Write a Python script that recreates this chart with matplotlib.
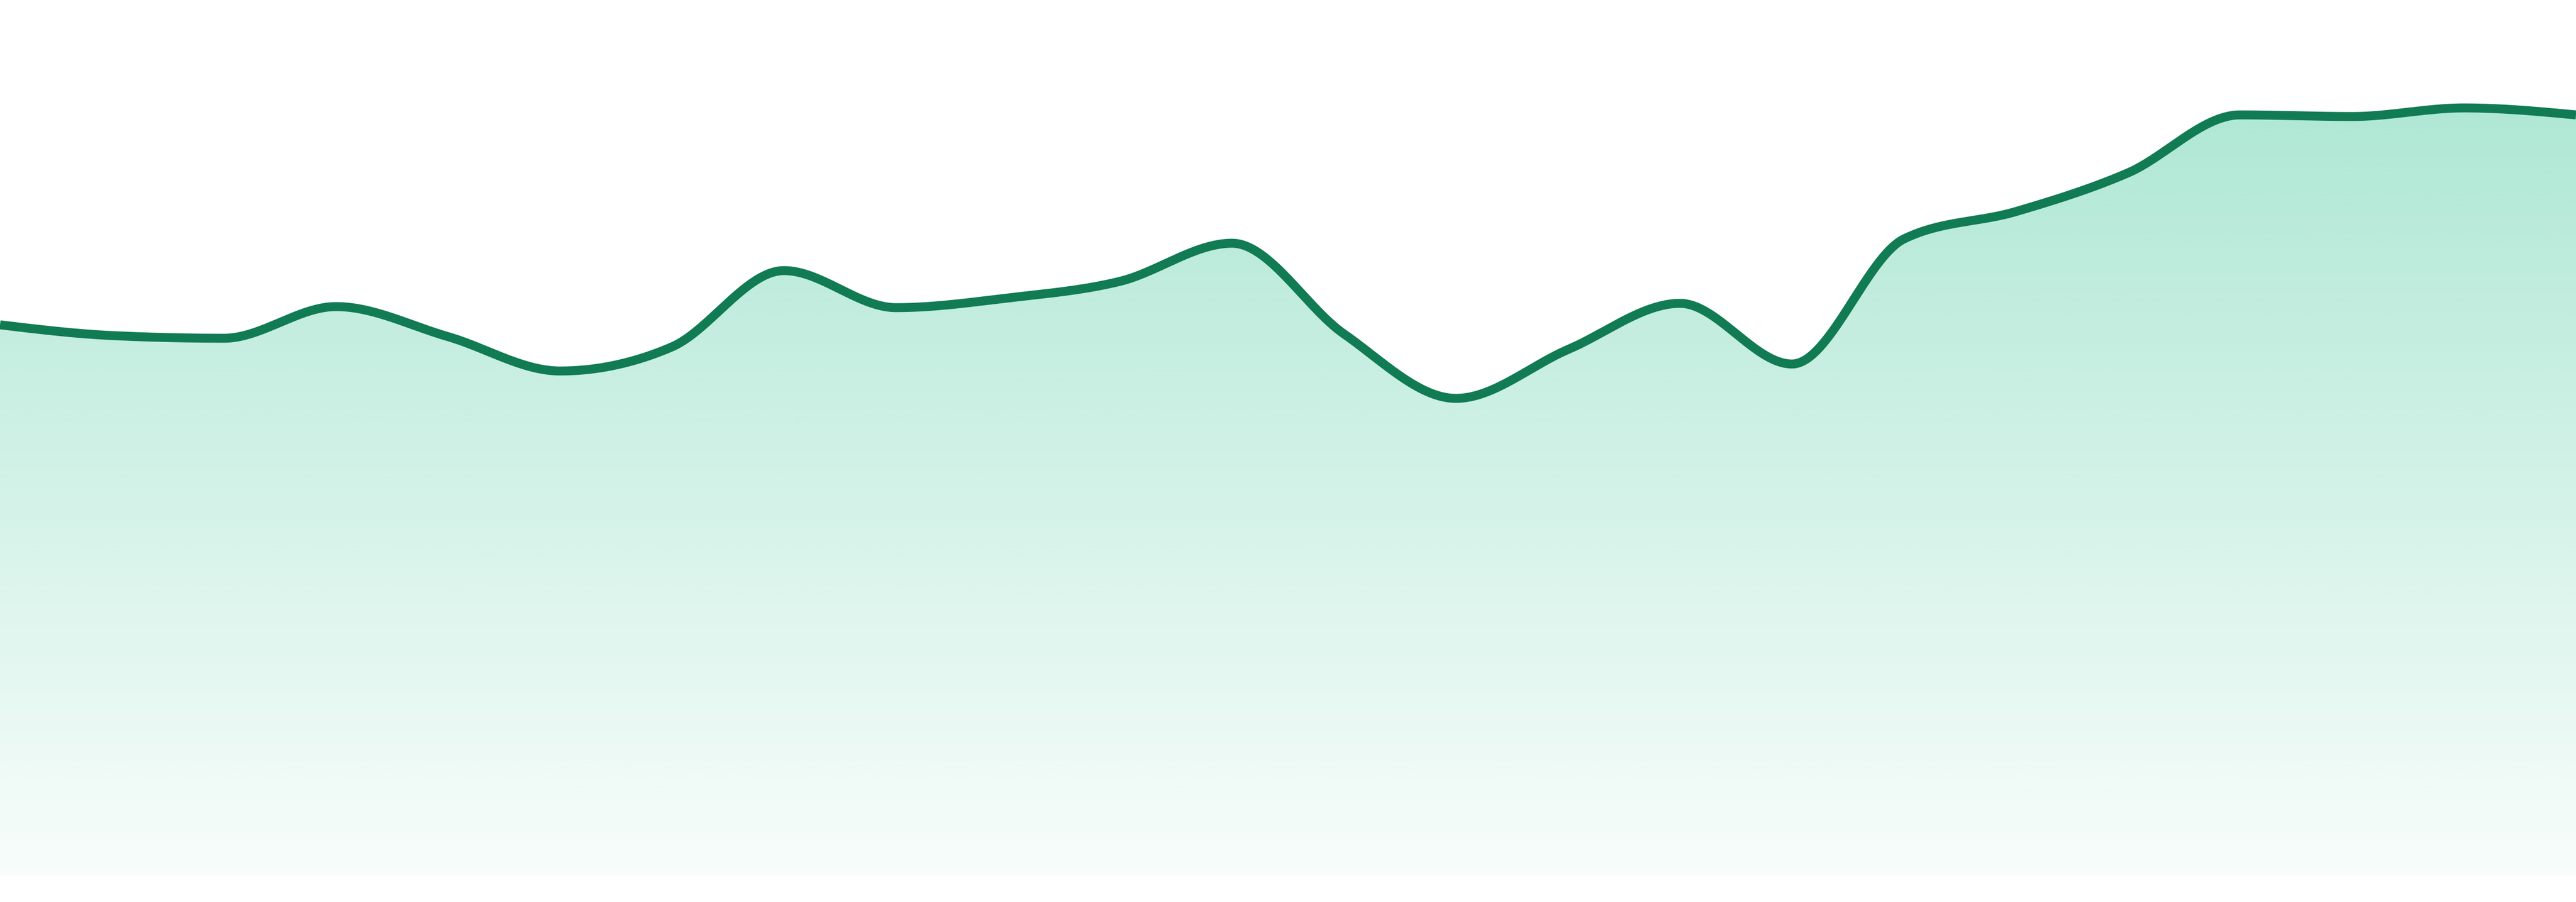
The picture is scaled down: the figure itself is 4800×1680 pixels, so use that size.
import numpy as np
import matplotlib
matplotlib.use("Agg")
import matplotlib.pyplot as plt

# values, one per step (evenly spaced)
steps = list(range(24))
values = [102.5, 100.5, 100.0, 105.9, 100.3, 93.9, 98.4, 112.6,
          105.7, 107.5, 110.6, 117.7, 100.8, 88.8, 97.9, 106.5,
          95.2, 118.5, 123.6, 130.8, 141.6, 141.3, 142.9, 141.6]

line_color = "#117b53"
fill_rgb = (16 / 255, 185 / 255, 129 / 255)


def monotone_x(x, y, n=60):
    # monotone cubic like d3.curveMonotoneX
    x = np.asarray(x, float)
    y = np.asarray(y, float)
    h = np.diff(x)
    s = np.diff(y) / h
    t = np.zeros_like(y)
    for i in range(1, len(y) - 1):
        if s[i - 1] * s[i] > 0:
            p = (s[i - 1] * h[i] + s[i] * h[i - 1]) / (h[i - 1] + h[i])
            t[i] = 2 * np.sign(s[i]) * min(abs(s[i - 1]), abs(s[i]), 0.5 * abs(p))
    t[0] = (3 * s[0] - t[1]) / 2
    t[-1] = (3 * s[-1] - t[-2]) / 2
    xs, ys = [], []
    for i in range(len(h)):
        u = np.linspace(0, 1, n, endpoint=(i == len(h) - 1))
        h00 = 2 * u**3 - 3 * u**2 + 1
        h10 = u**3 - 2 * u**2 + u
        h01 = -2 * u**3 + 3 * u**2
        h11 = u**3 - u**2
        xs.append(x[i] + u * h[i])
        ys.append(h00 * y[i] + h10 * h[i] * t[i] + h01 * y[i + 1] + h11 * h[i] * t[i + 1])
    return np.concatenate(xs), np.concatenate(ys)


fig = plt.figure(figsize=(48, 16.8), dpi=100)
ax = fig.add_axes([0, 50 / 1680, 1, 1630 / 1680])
ax.set_xlim(steps[0], steps[-1])
ax.set_ylim(0, 163)
ax.axis("off")

xs, ys = monotone_x(steps, values)

# gradient fill under the curve
poly = ax.fill_between(xs, ys, 0, color="none", lw=0)
alpha = np.linspace(0.03, 0.38, 256)
grad = np.zeros((256, 1, 4))
grad[:, 0, 0] = fill_rgb[0]
grad[:, 0, 1] = fill_rgb[1]
grad[:, 0, 2] = fill_rgb[2]
grad[:, 0, 3] = alpha
img = ax.imshow(grad, extent=[steps[0], steps[-1], 0, 163], origin="lower",
                aspect="auto", interpolation="bilinear", zorder=1)
img.set_clip_path(poly.get_paths()[0], transform=ax.transData)

ax.plot(xs, ys, color=line_color, lw=12, solid_capstyle="butt", zorder=2)

fig.savefig("out.png", dpi=100)
